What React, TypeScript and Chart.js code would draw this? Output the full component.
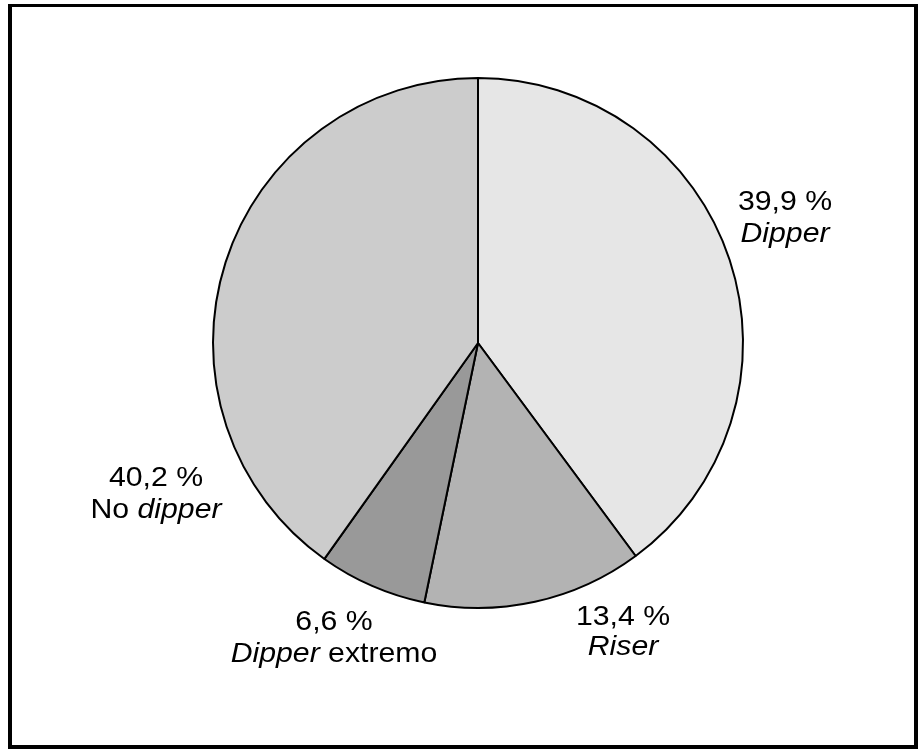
import React, { useEffect, useRef } from "react";
import { Chart, registerables } from "chart.js";

Chart.register(...registerables);

// Data (clockwise from 12 o'clock)
const categories = ["Dipper", "Riser", "Dipper extremo", "No dipper"];
const values = [39.9, 13.4, 6.6, 40.2];
const sliceColors = ["#e6e6e6", "#b3b3b3", "#999999", "#cccccc"];
const percentLabels = ["39,9 %", "13,4 %", "6,6 %", "40,2 %"];
// name lines: segments [text, italic]
const nameLines: [string, boolean][][] = [
  [["Dipper", true]],
  [["Riser", true]],
  [["Dipper", true], [" extremo", false]],
  [["No ", false], ["dipper", true]],
];

// label anchor (center x, first baseline y)
const labelAnchors = [
  { x: 785, y: 210, gap: 32 },
  { x: 623, y: 625, gap: 30 },
  { x: 334, y: 630, gap: 32 },
  { x: 156, y: 486, gap: 32 },
];

const FONT_FAMILY = "'Liberation Sans', Arial, Helvetica, sans-serif";
const FONT_SIZE = 28;
const X_STRETCH = 1.08;

const labelPlugin = {
  id: "sliceLabels",
  afterDraw(chart: any) {
    const ctx = chart.ctx as CanvasRenderingContext2D;
    ctx.save();
    ctx.fillStyle = "#000";
    ctx.textBaseline = "alphabetic";
    ctx.textAlign = "left";
    const drawLine = (parts: [string, boolean][], cx: number, y: number) => {
      let total = 0;
      const widths = parts.map(([t, it]) => {
        ctx.font = `${it ? "italic " : ""}${FONT_SIZE}px ${FONT_FAMILY}`;
        const w = ctx.measureText(t).width;
        total += w;
        return w;
      });
      ctx.save();
      ctx.translate(cx, y);
      ctx.scale(X_STRETCH, 1);
      let x = -total / 2;
      parts.forEach(([t, it], i) => {
        ctx.font = `${it ? "italic " : ""}${FONT_SIZE}px ${FONT_FAMILY}`;
        ctx.fillText(t, x, 0);
        x += widths[i];
      });
      ctx.restore();
    };
    labelAnchors.forEach((a, i) => {
      drawLine([[percentLabels[i], false]], a.x, a.y);
      drawLine(nameLines[i], a.x, a.y + a.gap);
    });
    ctx.restore();
  },
};

export default function App() {
  const ref = useRef<HTMLCanvasElement | null>(null);
  useEffect(() => {
    if (!ref.current) return;
    const chart = new Chart(ref.current, {
      type: "pie",
      data: {
        labels: categories,
        datasets: [
          {
            data: values,
            backgroundColor: sliceColors,
            borderColor: "#000",
            borderWidth: 2,
            borderAlign: "center",
          },
        ],
      },
      options: {
        responsive: false,
        animation: false,
        devicePixelRatio: 1,
        layout: { padding: { left: 212, right: 176, top: 77, bottom: 146 } },
        plugins: {
          legend: { display: false },
          tooltip: { enabled: false },
          title: { display: false },
        },
      },
      plugins: [labelPlugin],
    });
    return () => chart.destroy();
  }, []);

  return (
    <div style={{ position: "absolute", left: 0, top: 0, width: 920, height: 755, background: "#fff" }}>
      <canvas ref={ref} width={920} height={755} style={{ position: "absolute", left: 0, top: 0 }} />
      <div
        style={{
          position: "absolute",
          left: 8,
          top: 4,
          width: 910,
          height: 745,
          border: "4px solid #000",
          borderTopWidth: 3,
          boxSizing: "border-box",
          pointerEvents: "none",
        }}
      />
    </div>
  );
}
